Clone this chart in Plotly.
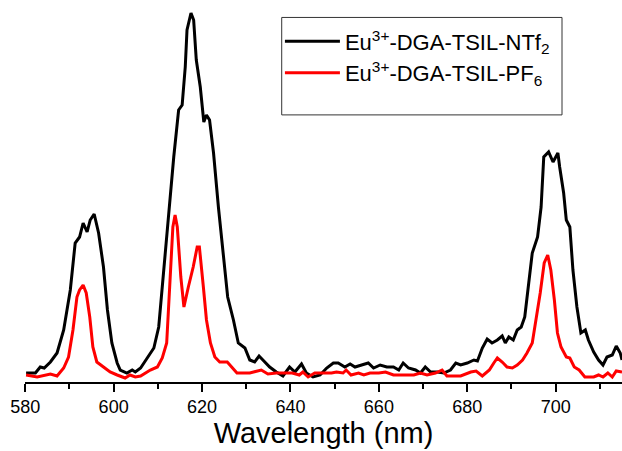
import plotly.graph_objects as go

# Eu3+-DGA-TSIL-NTf2 (black)
ntf2_wl = [580.2, 582.3, 583.4, 584.3, 585.7, 587.2, 588.7, 590.2, 591.3, 592.3, 593.1, 594.0, 594.7, 595.6,
           596.6, 597.7, 598.6, 599.6, 600.8, 601.5, 603.0, 604.2, 604.9, 606.1, 607.6, 609.1, 610.2, 611.4,
           612.5, 613.6, 614.7, 615.5, 616.2, 616.6, 617.5, 618.1, 618.7, 619.6, 620.4, 621.0, 621.7, 622.6,
           623.7, 624.9, 625.8, 627.1, 628.2, 629.7, 630.8, 631.9, 632.9, 634.2, 635.3, 636.8, 638.3, 639.8,
           641.0, 642.5, 643.6, 645.1, 646.7, 648.2, 649.7, 650.8, 652.3, 653.5, 654.6, 656.1, 657.6, 658.8,
           660.3, 661.8, 663.3, 664.5, 665.5, 666.7, 668.3, 669.4, 670.5, 671.7, 673.2, 674.7, 676.2, 677.4,
           678.5, 680.0, 681.5, 682.3, 683.4, 684.5, 685.6, 686.8, 687.9, 688.6, 689.4, 690.4, 691.3, 692.2,
           693.0, 693.9, 694.7, 695.9, 696.7, 697.3, 698.4, 699.4, 700.5, 700.9, 701.8, 702.4, 703.2, 703.9,
           704.8, 705.7, 706.7, 707.4, 708.6, 709.7, 710.7, 711.6, 712.8, 713.7, 714.6, 715.0]
ntf2_int = [7, 7, 13, 12, 18, 27, 50, 90, 137, 143, 157, 148, 160, 166,
            147, 113, 70, 37, 17, 10, 7, 10, 8, 12, 22, 32, 53, 113,
            173, 223, 270, 275, 313, 350, 367, 360, 320, 293, 258, 265, 260, 227,
            173, 120, 83, 60, 37, 32, 20, 18, 24, 18, 13, 8, 4, 13,
            8, 16, 7, 3, 5, 12, 17, 17, 13, 16, 13, 15, 17, 12,
            15, 13, 13, 10, 17, 12, 10, 7, 13, 8, 8, 7, 10, 17,
            15, 17, 20, 19, 32, 41, 37, 40, 44, 37, 43, 40, 50, 53,
            63, 97, 127, 143, 173, 223, 228, 218, 227, 213, 187, 160, 153, 110,
            73, 47, 50, 40, 28, 20, 15, 23, 25, 34, 27, 20]

# Eu3+-DGA-TSIL-PF6 (red)
pf6_wl = [580.2, 582.7, 585.7, 587.2, 588.7, 589.8, 590.8, 591.7, 592.3, 593.1, 593.8, 594.6, 595.3, 596.2,
          597.7, 599.2, 600.8, 602.6, 603.7, 604.9, 606.1, 608.3, 609.9, 611.0, 612.0, 612.7, 613.4, 613.9,
          614.4, 615.2, 615.9, 616.9, 618.0, 618.9, 619.4, 620.3, 621.0, 621.9, 622.9, 624.0, 625.7, 626.7,
          627.9, 630.8, 633.4, 634.9, 636.8, 638.3, 640.4, 642.0, 642.8, 644.0, 645.5, 647.4, 649.3, 650.4,
          651.9, 652.6, 653.7, 655.4, 656.6, 658.0, 660.0, 661.5, 663.3, 665.6, 667.9, 669.4, 670.9, 672.8,
          674.3, 675.4, 677.0, 678.5, 680.8, 682.0, 683.4, 685.0, 686.0, 686.8, 687.9, 689.0, 690.2, 691.3,
          692.5, 693.5, 694.7, 695.6, 696.5, 697.4, 698.2, 698.9, 699.7, 700.4, 701.2, 702.4, 703.2, 704.2,
          705.3, 706.6, 708.6, 709.7, 710.7, 711.8, 712.8, 713.7, 715.0]
pf6_int = [5, 3, 6, 4, 12, 23, 50, 83, 90, 95, 87, 63, 33, 18,
           13, 8, 5, 2, 5, 3, 4, 10, 13, 22, 37, 97, 153, 165,
           153, 103, 73, 93, 113, 133, 133, 93, 60, 37, 23, 18, 18, 13,
           7, 7, 10, 6, 7, 7, 7, 5, 8, 3, 7, 7, 7, 8,
           7, 10, 5, 7, 5, 7, 7, 8, 5, 5, 5, 7, 5, 7,
           10, 4, 4, 4, 8, 9, 4, 10, 17, 22, 18, 13, 12, 15,
           20, 27, 37, 60, 87, 117, 125, 110, 80, 47, 33, 23, 22, 13,
           10, 3, 3, 5, 3, 7, 3, 9, 8]

series_names = ["Eu<sup>3+</sup>-DGA-TSIL-NTf<sub>2</sub>", "Eu<sup>3+</sup>-DGA-TSIL-PF<sub>6</sub>"]
x_ticks = [580, 600, 620, 640, 660, 680, 700]

FONT = "Arial, Liberation Sans, sans-serif"

fig = go.Figure()
fig.add_trace(go.Scatter(x=ntf2_wl, y=ntf2_int, mode="lines", name=series_names[0],
                         line=dict(color="black", width=3)))
fig.add_trace(go.Scatter(x=pf6_wl, y=pf6_int, mode="lines", name=series_names[1],
                         line=dict(color="#ff0000", width=3)))

fig.update_layout(
    width=622, height=451,
    margin=dict(l=25, r=0, t=10, b=69),
    paper_bgcolor="white", plot_bgcolor="white",
    font=dict(family=FONT, color="black"),
    showlegend=True,
    legend=dict(x=0.427, y=0.972, xanchor="left", yanchor="top",
                bgcolor="rgba(0,0,0,0)", borderwidth=0,
                font=dict(family=FONT, size=22, color="black"),
                tracegroupgap=0, itemwidth=55),
    xaxis=dict(range=[579.95, 715], tickvals=x_ticks, ticks="outside", ticklen=8, tickwidth=1.5,
               tickcolor="black", showline=True, linecolor="black", linewidth=1.5,
               showgrid=False, zeroline=False,
               tickfont=dict(family=FONT, size=18, color="black"),
               minor=dict(dtick=10, ticks="outside", ticklen=5, tickwidth=1.5, tickcolor="black", showgrid=False),
               title=dict(text="Wavelength (nm)", font=dict(family=FONT, size=29, color="black"), standoff=6)),
    yaxis=dict(range=[-2, 370], visible=False, showgrid=False, zeroline=False),
)

fig.add_shape(type="rect", xref="paper", yref="paper", x0=0.430, x1=0.8995, y0=0.718, y1=0.980,
              line=dict(color="#333333", width=1), fillcolor="rgba(0,0,0,0)", layer="above")

fig.write_html("out.html")
